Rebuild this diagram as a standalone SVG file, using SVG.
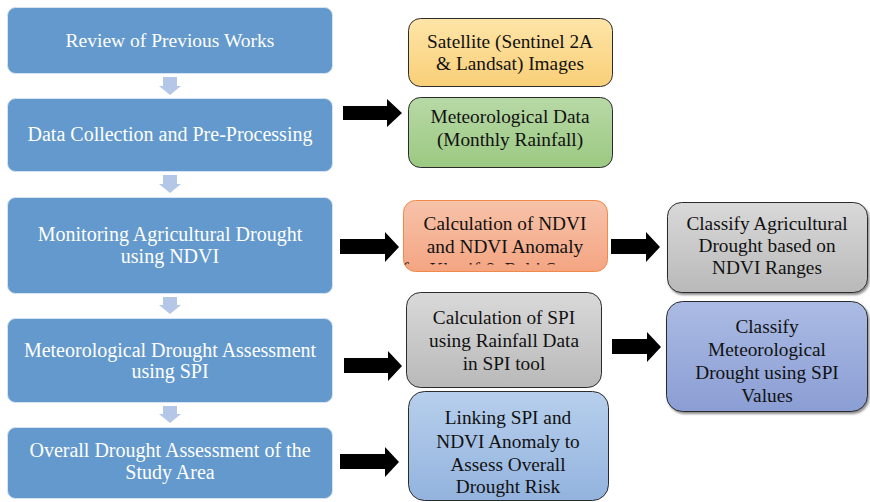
<svg xmlns="http://www.w3.org/2000/svg" width="870" height="502" viewBox="0 0 870 502">
<defs>
<style>
.step rect{fill:#6399cc;stroke:#d6e3f2;stroke-width:1}
.step text{fill:#ffffff;font-family:"Liberation Serif","Times New Roman",serif;font-size:20px;text-anchor:middle}
.box text{fill:#111;font-family:"Liberation Serif","Times New Roman",serif;font-size:19.3px;text-anchor:middle}
.box rect{stroke:#2b2b2b;stroke-width:1}
.down{fill:#b4c7e7}
.blk{fill:#000}
</style>
<linearGradient id="gSat" x1="0" y1="0" x2="0" y2="1"><stop offset="0" stop-color="#fee5a8"/><stop offset="1" stop-color="#f9cf78"/></linearGradient>
<linearGradient id="gGrn" x1="0" y1="0" x2="0" y2="1"><stop offset="0" stop-color="#b8d9a6"/><stop offset="1" stop-color="#9bc982"/></linearGradient>
<linearGradient id="gOrg" x1="0" y1="0" x2="0" y2="1"><stop offset="0" stop-color="#f7c3aa"/><stop offset="1" stop-color="#f4a582"/></linearGradient>
<linearGradient id="gGry" x1="0" y1="0" x2="0" y2="1"><stop offset="0" stop-color="#d9d9d9"/><stop offset="1" stop-color="#b9b9b9"/></linearGradient>
<linearGradient id="gPur" x1="0" y1="0" x2="0" y2="1"><stop offset="0" stop-color="#abbbe4"/><stop offset="1" stop-color="#8b9ed4"/></linearGradient>
<linearGradient id="gLbl" x1="0" y1="0" x2="0" y2="1"><stop offset="0" stop-color="#b7cfec"/><stop offset="1" stop-color="#93b3de"/></linearGradient>
<filter id="sh" x="-5%" y="-5%" width="115%" height="125%"><feDropShadow dx="1.5" dy="2" stdDeviation="1.2" flood-color="#000" flood-opacity="0.45"/></filter>
<clipPath id="clipNdvi"><rect x="403" y="200" width="204" height="64.5"/></clipPath>
</defs>

<g id="step1" class="step"><rect x="7.5" y="7.5" width="325" height="66" rx="8"/><text x="170" y="47" style="font-size:19.5px">Review of Previous Works</text></g>
<g id="step2" class="step"><rect x="7.5" y="98.5" width="325" height="73" rx="8"/><text x="170" y="141">Data Collection and Pre-Processing</text></g>
<g id="step3" class="step"><rect x="7.5" y="197.5" width="325" height="96" rx="8"/><text x="170" y="241">Monitoring Agricultural Drought</text><text x="170" y="263">using NDVI</text></g>
<g id="step4" class="step"><rect x="7.5" y="318.5" width="325" height="84" rx="8"/><text x="170" y="357">Meteorological Drought Assessment</text><text x="170" y="378">using SPI</text></g>
<g id="step5" class="step"><rect x="7.5" y="427.5" width="325" height="71" rx="8"/><text x="170" y="457">Overall Drought Assessment of the</text><text x="170" y="479">Study Area</text></g>

<g id="satellite" class="box"><rect x="408.5" y="18.5" width="204" height="68" rx="12" fill="url(#gSat)"/><text x="510" y="48">Satellite (Sentinel 2A</text><text x="510" y="70">&amp; Landsat) Images</text></g>
<g id="metdata" class="box"><rect x="408.5" y="97.5" width="204" height="70" rx="12" fill="url(#gGrn)"/><text x="510" y="123">Meteorological Data</text><text x="510" y="146">(Monthly Rainfall)</text></g>
<g id="calcndvi" class="box"><rect x="403.5" y="200.5" width="204" height="71" rx="12" fill="url(#gOrg)" style="stroke:#f08a4b"/><text x="505" y="230">Calculation of NDVI</text><text x="505" y="253">and NDVI Anomaly</text><text x="505" y="276" clip-path="url(#clipNdvi)">for Kharif &amp; Rabi Seasons</text></g>
<g id="classagri" class="box"><rect x="667.5" y="202.5" width="200" height="90" rx="14" fill="url(#gGry)" filter="url(#sh)"/><text x="767" y="230">Classify Agricultural</text><text x="767" y="252">Drought based on</text><text x="767" y="274">NDVI Ranges</text></g>
<g id="calcspi" class="box"><rect x="406.5" y="292.5" width="195" height="95" rx="14" fill="url(#gGry)"/><text x="504" y="324">Calculation of SPI</text><text x="504" y="347">using Rainfall Data</text><text x="504" y="370">in SPI tool</text></g>
<g id="classmet" class="box"><rect x="666.5" y="301.5" width="201" height="110" rx="16" fill="url(#gPur)" filter="url(#sh)"/><text x="767" y="333">Classify</text><text x="767" y="356">Meteorological</text><text x="767" y="379">Drought using SPI</text><text x="767" y="402">Values</text></g>
<g id="linking" class="box"><rect x="408.5" y="391.5" width="200" height="109" rx="16" fill="url(#gLbl)"/><text x="508" y="424">Linking SPI and</text><text x="508" y="448">NDVI Anomaly to</text><text x="508" y="471">Assess Overall</text><text x="508" y="493">Drought Risk</text></g>

<g id="connectors">
<path class="down" d="M163 77h14v9h4l-11 9l-11-9h4z"/>
<path class="down" d="M163 175h14v9h4l-11 9l-11-9h4z"/>
<path class="down" d="M163 297h14v8h4l-11 9l-11-9h4z"/>
<path class="down" d="M163 406h14v8h4l-11 9l-11-9h4z"/>
<path class="blk" d="M343 106h44v-7l15 14l-15 14v-7h-44z"/>
<path class="blk" d="M340 239h45v-7l14 15l-14 15v-8h-45z"/>
<path class="blk" d="M344 358h44v-7l14 15l-14 15v-8h-44z"/>
<path class="blk" d="M340 454h45v-7l14 15l-14 15v-8h-45z"/>
<path class="blk" d="M611 239h35v-7l14 15l-14 15v-8h-35z"/>
<path class="blk" d="M612 339h35v-7l14 15l-14 15v-8h-35z"/>
</g>
</svg>
